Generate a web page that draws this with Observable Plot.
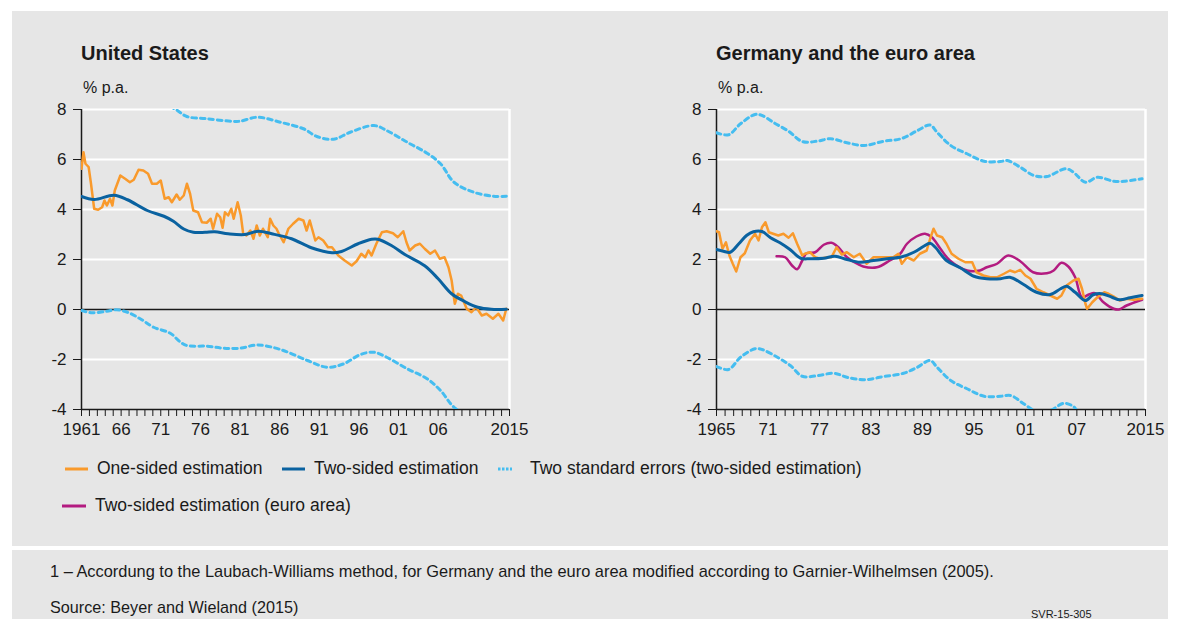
<!DOCTYPE html>
<html>
<head>
<meta charset="utf-8">
<script src="https://cdn.jsdelivr.net/npm/d3@7"></script>
<script src="https://cdn.jsdelivr.net/npm/@observablehq/plot@0.6"></script>
<style>
  html, body { margin: 0; padding: 0; background: #ffffff; }
  body { width: 1180px; height: 619px; position: relative; overflow: hidden;
         font-family: "Liberation Sans", Arial, sans-serif; color: #1a1a1a; }
  .box { position: absolute; background: #e6e6e6; }
  .txt { position: absolute; white-space: nowrap; line-height: 1; }
  .chart { position: absolute; top: 0; }
  .sw { position: absolute; }
</style>
</head>
<body>
<div class="box" style="left:12px; top:11px; width:1156px; height:535px;"></div>
<div class="box" style="left:12px; top:550px; width:1156px; height:69px;"></div>

<div class="txt" style="left:81px; top:43px; font-size:20px; font-weight:bold;">United States</div>
<div class="txt" style="left:83px; top:80px; font-size:16px;">% p.a.</div>
<div class="txt" style="left:716px; top:43px; font-size:20px; font-weight:bold;">Germany and the euro area</div>
<div class="txt" style="left:718px; top:80px; font-size:16px;">% p.a.</div>

<div id="left" class="chart" style="left:0px;"></div>
<div id="right" class="chart" style="left:590px;"></div>

<div id="legend"></div>

<div class="txt" style="left:50px; top:563px; font-size:16.4px;">1 – Accordung to the Laubach-Williams method, for Germany and the euro area modified according to Garnier-Wilhelmsen (2005).</div>
<div class="txt" style="left:50px; top:599px; font-size:16.2px;">Source: Beyer and Wieland (2015)</div>
<div class="txt" style="left:1031px; top:609px; font-size:11px;">SVR-15-305</div>

<script>
// ---------- colours ----------
const cOrange = "#f99a2c";
const cBlue = "#0a62a0";
const cLight = "#45bdf0";
const cMagenta = "#b31b80";

// ---------- tick labels ----------
const usTickLabels = [[1961,"1961"],[1966,"66"],[1971,"71"],[1976,"76"],[1981,"81"],[1986,"86"],[1991,"91"],[1996,"96"],[2001,"01"],[2006,"06"],[2015,"2015"]];
const deTickLabels = [[1965,"1965"],[1971,"71"],[1977,"77"],[1983,"83"],[1989,"89"],[1995,"95"],[2001,"01"],[2007,"07"],[2015,"2015"]];
const yTicks = [-4,-2,0,2,4,6,8];
const gridValues = [8,6,4,2,-2];

// ---------- United States ----------
const usOneSided = [[1961.0,5.63],[1961.25,6.29],[1961.5,5.83],[1961.9,5.7],[1962.2,5.03],[1962.6,4.03],[1963.1,3.99],[1963.6,4.09],[1963.9,4.36],[1964.2,4.16],[1964.6,4.43],[1964.9,4.16],[1965.2,4.76],[1965.9,5.36],[1966.5,5.23],[1967.1,5.09],[1967.6,5.19],[1968.2,5.59],[1968.8,5.56],[1969.4,5.43],[1969.9,5.03],[1970.5,5.03],[1971.0,5.16],[1971.5,4.43],[1972.0,4.49],[1972.4,4.29],[1973.0,4.6],[1973.4,4.39],[1973.9,4.56],[1974.3,5.03],[1974.7,4.63],[1975.1,3.96],[1975.7,3.89],[1976.2,3.49],[1976.8,3.47],[1977.3,3.63],[1977.6,3.23],[1978.1,3.83],[1978.5,3.69],[1978.8,3.27],[1979.1,3.89],[1979.5,3.76],[1979.9,4.03],[1980.2,3.63],[1980.7,4.29],[1981.1,3.76],[1981.4,3.03],[1981.8,2.96],[1982.3,3.16],[1982.7,2.83],[1983.1,3.36],[1983.5,2.96],[1983.9,3.23],[1984.5,2.89],[1984.8,3.63],[1985.2,3.36],[1985.6,3.23],[1985.9,3.03],[1986.5,2.69],[1987.1,3.23],[1987.7,3.43],[1988.4,3.63],[1989.0,3.56],[1989.4,3.16],[1989.8,3.56],[1990.5,2.76],[1990.9,2.89],[1991.5,2.76],[1992.1,2.49],[1992.6,2.49],[1993.4,2.16],[1994.2,1.96],[1995.1,1.76],[1995.7,1.93],[1996.3,2.23],[1996.8,2.09],[1997.2,2.36],[1997.6,2.16],[1998.2,2.63],[1998.9,3.09],[1999.5,3.13],[2000.3,3.05],[2000.9,2.89],[2001.6,3.13],[2002.0,2.69],[2002.4,2.36],[2003.1,2.56],[2003.7,2.63],[2004.3,2.43],[2005.0,2.23],[2005.6,2.36],[2006.2,2.03],[2006.8,2.09],[2007.3,1.69],[2007.7,1.16],[2008.1,0.23],[2008.5,0.63],[2008.9,0.56],[2009.6,0.03],[2010.2,-0.11],[2010.8,0.09],[2011.5,-0.24],[2012.1,-0.17],[2012.9,-0.37],[2013.6,-0.17],[2014.2,-0.44],[2014.6,0.03]];
const usTwoSided = [[1961.0,4.52],[1962.6,4.4],[1965.1,4.57],[1966.8,4.39],[1969.3,3.96],[1971.4,3.73],[1972.6,3.53],[1973.9,3.22],[1975.1,3.09],[1976.6,3.09],[1977.8,3.11],[1979.5,3.03],[1981.6,3.0],[1983.3,3.13],[1985.0,3.03],[1987.5,2.83],[1990.0,2.47],[1992.6,2.27],[1993.8,2.32],[1995.9,2.63],[1997.6,2.81],[1998.4,2.81],[2000.1,2.56],[2001.8,2.2],[2004.3,1.75],[2006.0,1.23],[2007.7,0.63],[2009.4,0.31],[2011.0,0.09],[2012.7,0.01],[2014.6,0.01]];
const usUpper = [[1961.0,9.1],[1964.0,9.0],[1966.0,9.05],[1969.0,8.6],[1971.0,8.3],[1972.9,8.0],[1974.3,7.72],[1976.8,7.63],[1980.0,7.53],[1981.0,7.53],[1983.2,7.69],[1986.1,7.49],[1989.0,7.23],[1990.7,6.92],[1992.8,6.81],[1994.9,7.09],[1997.9,7.36],[1999.5,7.16],[2002.1,6.69],[2004.6,6.25],[2006.3,5.83],[2008.0,5.09],[2010.5,4.69],[2013.0,4.53],[2014.6,4.53]];
const usLower = [[1961.0,-0.04],[1962.3,-0.13],[1964.2,-0.07],[1965.4,-0.01],[1966.8,-0.11],[1968.4,-0.37],[1970.1,-0.71],[1972.2,-0.95],[1973.5,-1.31],[1974.3,-1.44],[1976.9,-1.47],[1979.0,-1.55],[1981.0,-1.55],[1983.2,-1.42],[1986.1,-1.6],[1989.5,-2.04],[1992.0,-2.31],[1994.1,-2.17],[1996.2,-1.8],[1997.9,-1.71],[1999.5,-1.91],[2002.1,-2.37],[2004.6,-2.77],[2006.3,-3.24],[2008.0,-3.91],[2010.5,-4.4],[2013.0,-4.5],[2014.6,-4.5]];

// ---------- Germany and the euro area ----------
const deOneSided = [[1965.0,3.13],[1965.3,3.09],[1965.7,2.43],[1966.1,2.69],[1966.5,2.16],[1966.9,1.83],[1967.3,1.52],[1967.8,2.09],[1968.3,2.25],[1968.9,2.76],[1969.5,3.03],[1969.9,2.76],[1970.3,3.29],[1970.7,3.49],[1971.1,3.09],[1971.6,3.03],[1972.2,2.96],[1972.8,3.03],[1973.4,2.87],[1973.9,3.05],[1974.4,2.63],[1975.0,2.16],[1975.3,2.23],[1975.9,2.29],[1976.5,2.09],[1977.1,2.03],[1977.9,2.09],[1978.4,2.09],[1979.0,2.49],[1979.6,2.2],[1980.2,2.29],[1981.0,2.09],[1981.7,2.23],[1982.5,1.83],[1983.3,2.09],[1984.1,2.09],[1984.9,2.09],[1985.6,2.09],[1986.2,2.23],[1986.6,1.83],[1987.2,2.09],[1988.0,1.96],[1988.7,2.23],[1989.5,2.36],[1989.9,2.83],[1990.3,3.23],[1990.7,2.96],[1991.3,2.89],[1991.8,2.63],[1992.4,2.23],[1993.2,2.03],[1994.0,1.89],[1994.8,1.89],[1995.3,1.49],[1996.1,1.36],[1996.9,1.29],[1997.7,1.29],[1998.5,1.43],[1999.2,1.56],[1999.8,1.49],[2000.4,1.59],[2001.0,1.36],[2001.6,1.23],[2002.3,0.83],[2003.1,0.69],[2003.9,0.56],[2004.7,0.43],[2005.2,0.56],[2005.8,0.96],[2006.6,1.16],[2007.2,1.23],[2007.6,0.83],[2008.0,0.23],[2008.2,0.03],[2008.8,0.29],[2009.4,0.49],[2010.2,0.69],[2010.7,0.63],[2011.3,0.52],[2012.0,0.36],[2012.8,0.43],[2013.6,0.39],[2014.6,0.43]];
const deTwoSided = [[1965.0,2.4],[1965.8,2.33],[1966.6,2.29],[1967.6,2.63],[1968.5,2.96],[1969.3,3.11],[1970.3,3.12],[1971.3,2.87],[1972.4,2.67],[1973.6,2.39],[1974.8,2.05],[1975.9,2.03],[1977.5,2.05],[1978.8,2.13],[1980.2,2.0],[1981.7,1.89],[1983.3,1.96],[1984.9,2.03],[1986.4,2.09],[1988.0,2.29],[1989.1,2.52],[1989.9,2.65],[1990.5,2.49],[1991.8,1.96],[1993.4,1.67],[1995.0,1.33],[1996.5,1.23],[1998.1,1.23],[1999.2,1.29],[2000.8,1.0],[2002.3,0.69],[2003.9,0.6],[2005.1,0.83],[2005.8,0.93],[2006.8,0.69],[2008.0,0.36],[2008.9,0.59],[2009.9,0.63],[2011.1,0.49],[2012.0,0.39],[2013.2,0.47],[2014.6,0.56]];
const euTwoSided = [[1972.0,2.13],[1973.0,2.09],[1973.8,1.76],[1974.4,1.61],[1975.0,1.96],[1975.5,2.25],[1976.5,2.29],[1977.5,2.59],[1978.4,2.67],[1979.2,2.49],[1980.2,2.09],[1981.4,1.83],[1982.1,1.72],[1983.7,1.69],[1985.2,1.96],[1986.4,2.23],[1987.2,2.63],[1988.3,2.92],[1989.3,3.03],[1990.1,2.89],[1991.1,2.43],[1992.2,1.96],[1994.2,1.56],[1995.7,1.56],[1996.5,1.69],[1997.7,1.83],[1999.0,2.16],[2000.4,1.93],[2001.9,1.49],[2003.5,1.45],[2004.3,1.56],[2005.2,1.87],[2006.0,1.72],[2006.8,1.29],[2007.6,0.49],[2008.4,0.6],[2009.1,0.65],[2010.1,0.29],[2011.3,0.03],[2011.9,0.0],[2012.8,0.16],[2014.6,0.39]];
const deUpper = [[1965.0,7.07],[1966.4,6.99],[1967.8,7.43],[1969.5,7.8],[1970.3,7.76],[1971.7,7.47],[1973.4,7.13],[1975.0,6.72],[1976.7,6.73],[1978.3,6.83],[1980.2,6.67],[1982.2,6.56],[1984.5,6.73],[1986.6,6.84],[1988.5,7.17],[1989.9,7.38],[1990.7,7.09],[1992.3,6.56],[1994.2,6.23],[1996.2,5.93],[1998.1,5.92],[1998.9,5.96],[2000.4,5.69],[2002.0,5.36],[2003.5,5.32],[2005.7,5.63],[2006.6,5.49],[2008.0,5.09],[2009.4,5.29],[2011.3,5.13],[2012.5,5.13],[2014.6,5.23]];
const deLower = [[1965.0,-2.28],[1966.4,-2.4],[1967.8,-1.91],[1969.5,-1.57],[1970.3,-1.6],[1972.1,-1.91],[1973.6,-2.24],[1975.0,-2.67],[1976.7,-2.65],[1978.7,-2.55],[1980.2,-2.71],[1982.2,-2.81],[1984.5,-2.68],[1986.8,-2.55],[1988.4,-2.31],[1989.9,-2.04],[1990.7,-2.31],[1992.3,-2.84],[1994.2,-3.17],[1996.2,-3.47],[1998.1,-3.47],[1999.3,-3.44],[2000.8,-3.77],[2002.0,-4.04],[2003.0,-4.15],[2004.1,-4.01],[2005.5,-3.75],[2006.6,-3.88],[2007.0,-4.04],[2008.0,-4.4],[2009.4,-4.1],[2011.3,-4.15],[2012.5,-4.2],[2014.6,-4.1]];

function panel({x0, x1, labels, width, marginLeft, marginRight, series}) {
  const labelMap = new Map(labels);
  const H = 450;
  const X = d => d[0], Y = d => d[1];
  const marks = [
    Plot.ruleY(gridValues, {stroke: "white", strokeWidth: 2}),
    Plot.ruleX([x1], {stroke: "white", strokeWidth: 2.5}),
    Plot.ruleY([0], {stroke: "#1a1a1a", strokeWidth: 1.5}),
    Plot.ruleY([-4], {stroke: "#1a1a1a", strokeWidth: 1.5}),
    Plot.ruleX([x0], {stroke: "#1a1a1a", strokeWidth: 1.5}),
  ];
  for (const s of series) {
    marks.push(Plot.line(s.data, {
      x: X, y: Y, stroke: s.color, strokeWidth: s.width,
      strokeDasharray: s.dash, curve: s.curve || "linear", clip: true,
      strokeLinejoin: "round"
    }));
  }
  return Plot.plot({
    width, height: H,
    marginLeft, marginRight, marginTop: 109, marginBottom: H - 409,
    style: {background: "transparent", fontSize: "17px", fontFamily: '"Liberation Sans", Arial, sans-serif', color: "#1a1a1a"},
    x: {domain: [x0, x1], ticks: d3.range(x0, x1 + 1), tickFormat: d => labelMap.get(d) ?? "", tickSize: 7, tickPadding: 6, label: null},
    y: {domain: [-4, 8], ticks: yTicks, tickFormat: d => String(d), tickSize: 8, tickPadding: 7, label: null},
    marks
  });
}

const bandStyle = {color: cLight, width: 3, dash: "4.5,4", curve: "catmull-rom"};

document.getElementById("left").appendChild(panel({
  x0: 1961, x1: 2015, labels: usTickLabels, width: 560, marginLeft: 81, marginRight: 51,
  series: [
    {...bandStyle, data: usUpper},
    {...bandStyle, data: usLower},
    {data: usOneSided, color: cOrange, width: 2.5},
    {data: usTwoSided, color: cBlue, width: 3, curve: "catmull-rom"}
  ]
}));

document.getElementById("right").appendChild(panel({
  x0: 1965, x1: 2015, labels: deTickLabels, width: 590, marginLeft: 126, marginRight: 35,
  series: [
    {...bandStyle, data: deUpper},
    {...bandStyle, data: deLower},
    {data: euTwoSided, color: cMagenta, width: 2.5, curve: "catmull-rom"},
    {data: deOneSided, color: cOrange, width: 2.5},
    {data: deTwoSided, color: cBlue, width: 3, curve: "catmull-rom"}
  ]
}));

// ---------- legend ----------
const legendItems = [
  {label: "One-sided estimation", color: cOrange, dash: null, sx: 65, sw: 23, tx: 97, y: 469},
  {label: "Two-sided estimation", color: cBlue, dash: null, sx: 282, sw: 23, tx: 314, y: 469},
  {label: "Two standard errors (two-sided estimation)", color: cLight, dash: "2.5,1.5", sx: 498, sw: 14, tx: 530, y: 469},
  {label: "Two-sided estimation (euro area)", color: cMagenta, dash: null, sx: 62, sw: 24, tx: 95, y: 506}
];
const leg = document.getElementById("legend");
for (const it of legendItems) {
  const ns = "http://www.w3.org/2000/svg";
  const svg = document.createElementNS(ns, "svg");
  svg.setAttribute("class", "sw");
  svg.setAttribute("width", it.sw);
  svg.setAttribute("height", 6);
  svg.style.left = it.sx + "px";
  svg.style.top = (it.y - 3) + "px";
  const ln = document.createElementNS(ns, "line");
  ln.setAttribute("x1", 0); ln.setAttribute("x2", it.sw);
  ln.setAttribute("y1", 3); ln.setAttribute("y2", 3);
  ln.setAttribute("stroke", it.color); ln.setAttribute("stroke-width", 3);
  if (it.dash) ln.setAttribute("stroke-dasharray", it.dash);
  svg.appendChild(ln);
  leg.appendChild(svg);
  const t = document.createElement("div");
  t.className = "txt";
  t.style.left = it.tx + "px";
  t.style.top = (it.y - 9) + "px";
  t.style.fontSize = "17.5px";
  t.textContent = it.label;
  leg.appendChild(t);
}
</script>
</body>
</html>
